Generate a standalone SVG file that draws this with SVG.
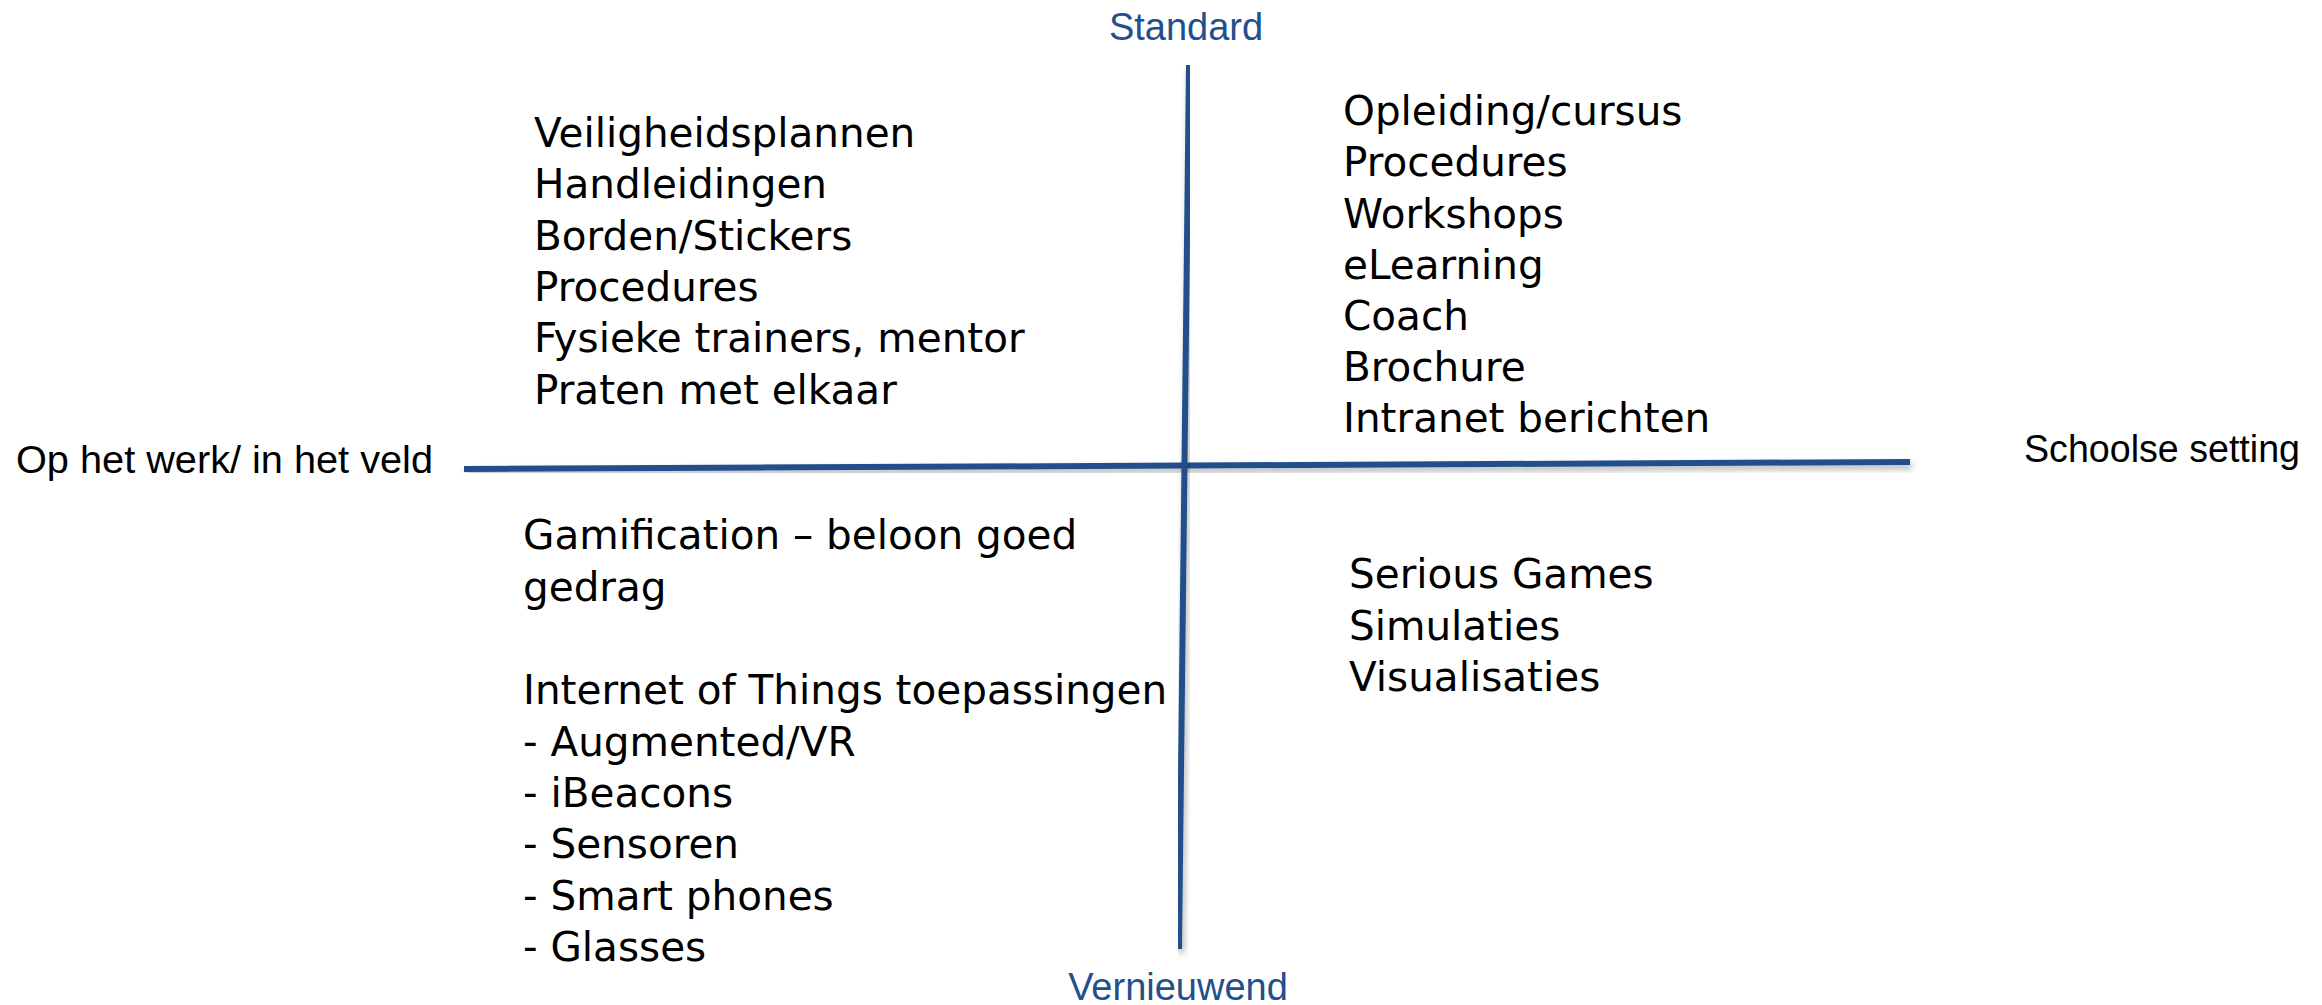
<svg xmlns="http://www.w3.org/2000/svg" width="2322" height="1005" viewBox="0 0 2322 1005">
<defs>
<style>
.axis{stroke:#234F8A;stroke-width:6;fill:none;filter:url(#sh)}
.lbl{font-family:"Liberation Sans",Arial,sans-serif;font-size:38px;fill:#000}
.blue{fill:#234F8A}
.item{font-family:"DejaVu Sans","Liberation Sans",sans-serif;font-size:40.5px;fill:#000}
</style>
<filter id="sh" x="-5%" y="-50%" width="110%" height="200%">
<feDropShadow dx="2" dy="4" stdDeviation="3" flood-color="#000" flood-opacity="0.3"/>
</filter>
</defs>
<rect width="2322" height="1005" fill="#fff"/>
<g id="connectors">
<line class="axis" x1="464" y1="469" x2="1910" y2="462"/>
<line class="axis" x1="1189" y1="65" x2="1179" y2="949"/>
</g>
<g id="axis-top"><text class="lbl blue" x="1186" y="40" text-anchor="middle">Standard</text></g>
<g id="axis-bottom"><text class="lbl blue" x="1178" y="1000" text-anchor="middle">Vernieuwend</text></g>
<g id="axis-left"><text class="lbl" x="16" y="473" textLength="417" lengthAdjust="spacingAndGlyphs">Op het werk/ in het veld</text></g>
<g id="axis-right"><text class="lbl" x="2024" y="462" textLength="276" lengthAdjust="spacingAndGlyphs">Schoolse setting</text></g>
<g id="q-top-left">
<text class="item" x="534" y="147">Veiligheidsplannen</text>
<text class="item" x="534" y="198">Handleidingen</text>
<text class="item" x="534" y="250">Borden/Stickers</text>
<text class="item" x="534" y="301">Procedures</text>
<text class="item" x="534" y="352">Fysieke trainers, mentor</text>
<text class="item" x="534" y="404">Praten met elkaar</text>
</g>
<g id="q-top-right">
<text class="item" x="1343" y="125">Opleiding/cursus</text>
<text class="item" x="1343" y="176">Procedures</text>
<text class="item" x="1343" y="228">Workshops</text>
<text class="item" x="1343" y="279">eLearning</text>
<text class="item" x="1343" y="330">Coach</text>
<text class="item" x="1343" y="381">Brochure</text>
<text class="item" x="1343" y="432">Intranet berichten</text>
</g>
<g id="q-bottom-left">
<text class="item" x="523" y="549">Gamification – beloon goed</text>
<text class="item" x="523" y="601">gedrag</text>
<text class="item" x="523" y="704">Internet of Things toepassingen</text>
<text class="item" x="523" y="756">- Augmented/VR</text>
<text class="item" x="523" y="807">- iBeacons</text>
<text class="item" x="523" y="858">- Sensoren</text>
<text class="item" x="523" y="910">- Smart phones</text>
<text class="item" x="523" y="961">- Glasses</text>
</g>
<g id="q-bottom-right">
<text class="item" x="1349" y="588">Serious Games</text>
<text class="item" x="1349" y="640">Simulaties</text>
<text class="item" x="1349" y="691">Visualisaties</text>
</g>
</svg>
